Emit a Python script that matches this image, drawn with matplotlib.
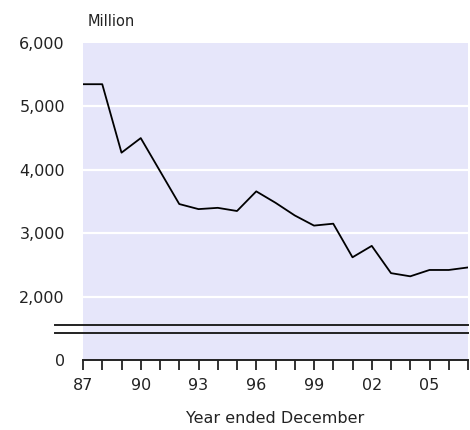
import numpy as np
import matplotlib
matplotlib.use('Agg')
import matplotlib.pyplot as plt

years = list(range(1987, 2008))
values = [5350, 5350, 4270, 4500, 3980, 3460, 3380, 3400, 3350, 3660, 3480,
          3280, 3120, 3150, 2620, 2800, 2370, 2320, 2420, 2420, 2460]

y_ticks = [0, 2000, 3000, 4000, 5000, 6000]
y_labels = ['0', '2,000', '3,000', '4,000', '5,000', '6,000']
grid_vals = [2000, 3000, 4000, 5000]
x_ticks = [1987, 1990, 1993, 1996, 1999, 2002, 2005]
x_labels = ['87', '90', '93', '96', '99', '02', '05']

BREAK = 2000   # values below this are squeezed (axis break)
SQUEEZE = 0.5


def fwd(v):
    v = np.asarray(v, dtype=float)
    return np.where(v >= BREAK, v, BREAK - (BREAK - v) * SQUEEZE)


def inv(p):
    p = np.asarray(p, dtype=float)
    return np.where(p >= BREAK, p, BREAK - (BREAK - p) / SQUEEZE)


plt.rcParams['font.family'] = ['DejaVu Sans']
txt = '#222222'

fig = plt.figure(figsize=(4.7, 4.3), dpi=100)
ax = fig.add_axes([83 / 470, 70 / 430, 385 / 470, 317 / 430])
ax.set_facecolor('#e6e6fa')
ax.set_yscale('function', functions=(fwd, inv))
ax.set_ylim(0, 6000)
ax.set_xlim(1987, 2007)

for g in grid_vals:
    ax.axhline(g, color='white', lw=1.6, zorder=1)

ax.plot(years, values, color='black', lw=1.3, zorder=3)

# axis break marks
for yf in (0.1114, 0.0861):
    ax.plot([-0.073, 1.0], [yf, yf], transform=ax.transAxes, color='#222222',
            lw=1.4, clip_on=False, zorder=4)

for s in ['top', 'right', 'left']:
    ax.spines[s].set_visible(False)
ax.spines['bottom'].set_linewidth(1.4)
ax.spines['bottom'].set_color('#222222')

ax.set_yticks(y_ticks)
ax.set_yticklabels(y_labels)
ax.tick_params(axis='y', length=0, pad=13, labelsize=11.5, labelcolor=txt)

ax.set_xticks(x_ticks)
ax.set_xticklabels(x_labels)
ax.set_xticks(years, minor=True)
ax.tick_params(axis='x', which='both', direction='out', length=7, width=1.3,
               color='#222222', labelsize=11.5, labelcolor=txt, pad=6)

ax.set_xlabel('Year ended December', fontsize=11.5, color=txt, labelpad=13)
fig.text(88 / 470, 1 - 21 / 430, 'Million', fontsize=10.5, color=txt,
         ha='left', va='center')

fig.savefig('out.png', dpi=100)
